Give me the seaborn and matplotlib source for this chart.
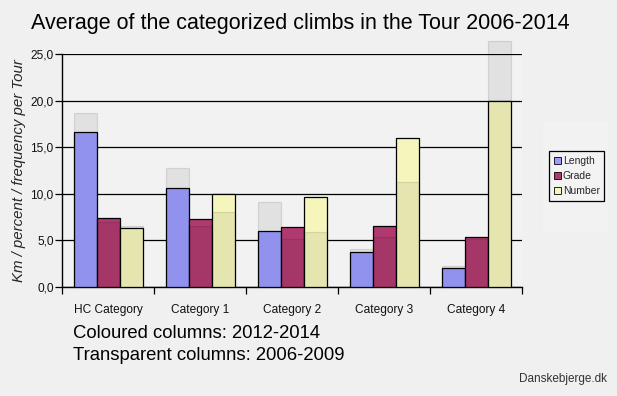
import matplotlib
matplotlib.use("Agg")
import matplotlib.pyplot as plt
import seaborn as sns
import pandas as pd
from matplotlib.ticker import FuncFormatter, FixedLocator
from matplotlib.patches import Rectangle

categories = ["HC Category", "Category 1", "Category 2", "Category 3", "Category 4"]
measures = ["Length", "Grade", "Number"]

# Coloured columns: 2012-2014
length_new = [16.6, 10.6, 6.0, 3.8, 2.0]
grade_new = [7.4, 7.3, 6.45, 6.55, 5.35]
number_new = [6.35, 10.0, 9.65, 16.0, 20.0]

# Transparent columns: 2006-2009
length_old = [18.7, 12.75, 9.1, 4.1, 2.2]
grade_old = [7.0, 6.5, 5.15, 5.35, 5.2]
number_old = [6.5, 8.0, 5.95, 11.3, 26.4]

yticks = [0, 5, 10, 15, 20, 25]


def long_frame(length, grade, number):
    rows = []
    for m, vals in zip(measures, [length, grade, number]):
        for c, v in zip(categories, vals):
            rows.append({"category": c, "measure": m, "value": v})
    return pd.DataFrame(rows)


df_new = long_frame(length_new, grade_new, number_new)
df_old = long_frame(length_old, grade_old, number_old)

palette = {"Length": "#9c9cff", "Grade": "#b03a70", "Number": "#f6f6bc"}

sns.set_theme(style="white")
plt.rcParams["font.family"] = ["Liberation Sans", "DejaVu Sans"]

bg = "#f0f0f0"
fig = plt.figure(figsize=(6.17, 3.96), dpi=100, facecolor=bg)

# faint backdrop behind the legend
fig.patches.append(Rectangle((543 / 617, 1 - 232 / 396), 65 / 617, 110 / 396,
                             transform=fig.transFigure, facecolor="#f2f2f2",
                             edgecolor="none", zorder=-5))

ax = fig.add_axes([62 / 617, 1 - 287 / 396, 460 / 617, 233 / 396])
ax.set_facecolor("#f2f2f2")

sns.barplot(data=df_new, x="category", y="value", hue="measure",
            hue_order=measures, order=categories, palette=palette,
            saturation=1, width=0.75, edgecolor="black", linewidth=0.9,
            ax=ax, legend=True, errorbar=None, zorder=3)
n_first = len(ax.patches)

sns.barplot(data=df_old, x="category", y="value", hue="measure",
            hue_order=measures, order=categories,
            palette={m: "black" for m in measures}, saturation=1,
            width=0.75, linewidth=0.9, ax=ax, legend=False,
            errorbar=None, zorder=4)
for p in ax.patches[n_first:]:
    if p.get_height() > 0:
        p.set_facecolor((0, 0, 0, 0.065))
        p.set_edgecolor((0, 0, 0, 0.10))
        p.set_clip_on(False)

# Axes styling
ax.set_xlim(-0.5, 4.5)
ax.set_ylim(0, 25)
ax.set_yticks(yticks)
ax.yaxis.set_major_formatter(FuncFormatter(lambda v, pos: f"{v:.1f}".replace(".", ",")))
ax.yaxis.grid(True, color="black", linewidth=0.9, zorder=0)
ax.set_axisbelow(True)
for s in ["top", "right"]:
    ax.spines[s].set_visible(False)
for s in ["left", "bottom"]:
    ax.spines[s].set_color("black")
    ax.spines[s].set_linewidth(1.0)

ax.tick_params(axis="y", which="major", left=True, length=5, width=0.9,
               color="black", labelsize=8.6, pad=1, labelcolor="#111111")
ax.tick_params(axis="x", which="major", bottom=False, labelsize=8.6, pad=6,
               labelcolor="#111111")
ax.xaxis.set_minor_locator(FixedLocator([-0.5, 0.5, 1.5, 2.5, 3.5, 4.5]))
ax.tick_params(axis="x", which="minor", bottom=True, length=5, width=0.9,
               color="black")
ax.set_xlabel("")
ax.set_ylabel("Km / percent / frequency per Tour", fontsize=10.8,
              style="italic", labelpad=3)

# Legend
sns.move_legend(ax, loc="upper left", bbox_to_anchor=(1.059, 0.583),
                borderaxespad=0, title=None, frameon=True, fontsize=7.5,
                handlelength=0.65, handleheight=0.65, handletextpad=0.2,
                labelspacing=0.5, borderpad=0.45, fancybox=False)
leg = ax.get_legend()
leg.get_frame().set_edgecolor("black")
leg.get_frame().set_linewidth(0.9)
leg.get_frame().set_facecolor("#f3f3f3")
leg.get_frame().set_alpha(1)
for h in leg.legend_handles:
    h.set_edgecolor("black")
    h.set_linewidth(0.6)

# Texts
fig.text(300 / 617, 1 - 23 / 396, "Average of the categorized climbs in the Tour 2006-2014",
         ha="center", va="center", fontsize=15.5, color="#000000")
fig.text(73 / 617, 1 - 334 / 396, "Coloured columns: 2012-2014",
         ha="left", va="center", fontsize=13.3, color="#000000")
fig.text(73 / 617, 1 - 355 / 396, "Transparent columns: 2006-2009",
         ha="left", va="center", fontsize=13.3, color="#000000")
fig.text(607 / 617, 1 - 379 / 396, "Danskebjerge.dk",
         ha="right", va="center", fontsize=8.5, color="#333333")

fig.savefig("out.png", dpi=100, facecolor=bg)
